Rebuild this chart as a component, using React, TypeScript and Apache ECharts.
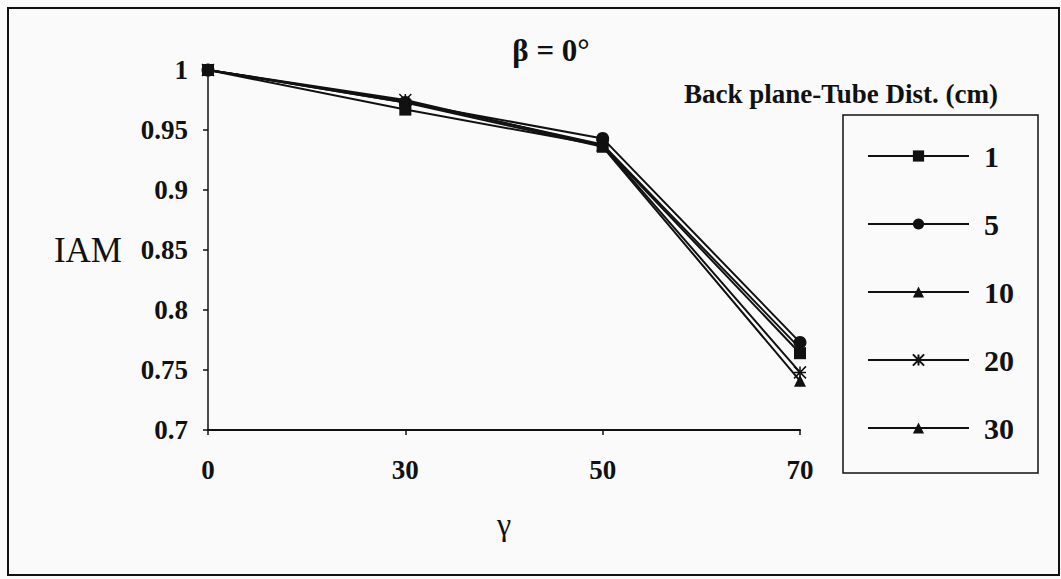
import React, { useEffect, useRef } from "react";
import * as echarts from "echarts";

const categories = ["0", "30", "50", "70"];
const seriesNames = ["1", "5", "10", "20", "30"];
const s1 = [1, 0.967, 0.937, 0.764];
const s5 = [1, 0.973, 0.943, 0.773];
const s10 = [1, 0.974, 0.938, 0.768];
const s20 = [1, 0.975, 0.937, 0.748];
const s30 = [1, 0.973, 0.936, 0.741];
const yTicks = [0.7, 0.75, 0.8, 0.85, 0.9, 0.95, 1];

const FONT = "Liberation Serif";
const starPath = "path://M0,0L10,10M10,0L0,10M5,0L5,10M0,5L10,5";

export default function App() {
  const ref = useRef<HTMLDivElement>(null);
  useEffect(() => {
    document.body.style.margin = "0";
    const chart = echarts.init(ref.current!, null, { renderer: "svg" });
    const data = [s1, s5, s10, s20, s30];
    const symbols = ["rect", "circle", "triangle", starPath, "triangle"];
    const sizes = [12, 13, 12, 12, 12];
    chart.setOption({
      animation: false,
      backgroundColor: "#fafafa",
      title: [
        {
          text: "β = 0°",
          left: 546,
          top: 30,
          textAlign: "center",
          textStyle: { fontFamily: FONT, fontSize: 31, fontWeight: "bold", color: "#111" },
        },
        {
          text: "Back plane-Tube Dist. (cm)",
          left: 679,
          top: 75,
          textStyle: { fontFamily: FONT, fontSize: 27, fontWeight: "bold", color: "#111" },
        },
      ],
      graphic: [
        {
          type: "rect",
          shape: { x: 8, y: 8, width: 1051, height: 567 },
          style: { fill: "none", stroke: "#111", lineWidth: 2 },
          silent: true,
        },
        {
          type: "rect",
          shape: { x: 843, y: 115, width: 195, height: 358 },
          style: { fill: "none", stroke: "#111", lineWidth: 1.5 },
          silent: true,
        },
      ],
      legend: {
        orient: "vertical",
        left: 862,
        top: 136,
        itemWidth: 101,
        itemHeight: 14,
        itemGap: 38,
        data: seriesNames,
        textStyle: {
          fontFamily: FONT,
          fontSize: 30,
          fontWeight: "bold",
          color: "#111",
          padding: [0, 0, 0, 10],
        },
      },
      grid: { left: 208, right: 261, top: 70, bottom: 149 },
      xAxis: {
        type: "category",
        data: categories,
        boundaryGap: false,
        name: "γ",
        nameLocation: "middle",
        nameGap: 78,
        nameTextStyle: { fontFamily: FONT, fontSize: 32, color: "#111" },
        axisLine: { lineStyle: { color: "#111", width: 2 } },
        axisTick: { length: 5, lineStyle: { color: "#111", width: 1.5 } },
        axisLabel: { fontFamily: FONT, fontSize: 27, fontWeight: "bold", color: "#111", margin: 26 },
        splitLine: { show: false },
      },
      yAxis: {
        type: "value",
        min: 0.7,
        max: 1,
        interval: 0.05,
        name: "IAM",
        nameLocation: "middle",
        nameRotate: 0,
        nameGap: 86,
        nameTextStyle: { fontFamily: FONT, fontSize: 35, color: "#111", align: "right" },
        axisLine: { show: true, lineStyle: { color: "#111", width: 1.5 } },
        axisTick: { show: true, length: 5, lineStyle: { color: "#111", width: 1.5 } },
        axisLabel: {
          fontFamily: FONT,
          fontSize: 27,
          fontWeight: "bold",
          color: "#111",
          margin: 20,
          formatter: (v: number) => {
            const t = yTicks.find((x) => Math.abs(x - v) < 1e-6);
            return t === undefined ? "" : String(t);
          },
        },
        splitLine: { show: false },
      },
      series: seriesNames.map((n, i) => ({
        name: n,
        type: "line",
        data: data[i],
        symbol: symbols[i],
        symbolSize: sizes[i],
        showSymbol: true,
        lineStyle: { color: "#111", width: 2 },
        itemStyle:
          i === 3
            ? { color: "#fafafa", borderColor: "#111", borderWidth: 1.5 }
            : { color: "#111", borderColor: "#111", borderWidth: 0 },
      })),
    });
    return () => chart.dispose();
  }, []);
  return <div ref={ref} style={{ width: 1061, height: 579 }} />;
}
